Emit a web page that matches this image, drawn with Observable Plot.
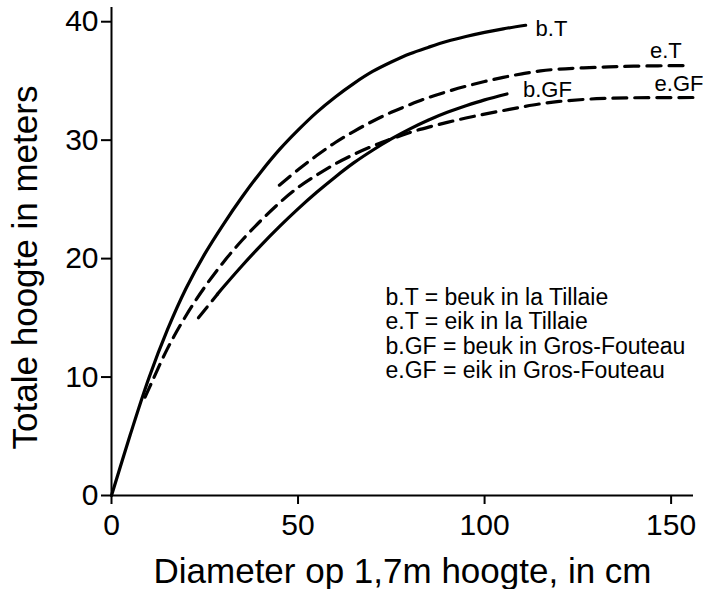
<!DOCTYPE html>
<html>
<head>
<meta charset="utf-8">
<script src="https://cdn.jsdelivr.net/npm/d3@7"></script>
<script src="https://cdn.jsdelivr.net/npm/@observablehq/plot@0.6"></script>
<style>
  html, body { margin: 0; padding: 0; background: #fff; }
  #chart svg { display: block; background: #fff; }
</style>
</head>
<body>
<div id="chart"></div>
<script>
// ---- data ----
const xTicks = [0, 50, 100, 150];
const yTicks = [0, 10, 20, 30, 40];

// b.T = beuk in la Tillaie (solid)
const bT_x = [0, 5, 10, 15, 20, 25, 30, 35, 40, 45, 50, 55, 60, 65, 70, 75, 80, 85, 90, 95, 100, 105, 111];
const bT_y = [0, 5.1, 9.9, 14.0, 17.5, 20.4, 22.9, 25.2, 27.3, 29.2, 30.85, 32.35, 33.65, 34.8, 35.8, 36.6, 37.3, 37.85, 38.35, 38.75, 39.1, 39.4, 39.7];

// e.T = eik in la Tillaie (dashed)
const eT_x = [45, 50, 55, 60, 65, 70, 75, 80, 85, 90, 95, 100, 105, 110, 115, 120, 130, 140, 155];
const eT_y = [26.2, 27.5, 28.7, 29.8, 30.75, 31.6, 32.35, 33.0, 33.6, 34.1, 34.55, 34.95, 35.3, 35.6, 35.85, 36.0, 36.15, 36.25, 36.3];

// b.GF = beuk in Gros-Fouteau (short dashed start, then solid)
const bGFlead_x = [23.3, 28.4];
const bGFlead_y = [15.0, 17.0];
const bGF_x = [28.4, 30, 35, 40, 45, 50, 55, 60, 65, 70, 75, 80, 85, 90, 95, 100, 106];
const bGF_y = [17.0, 17.6, 19.4, 21.1, 22.7, 24.2, 25.6, 26.9, 28.1, 29.15, 30.1, 30.95, 31.7, 32.35, 32.9, 33.4, 33.9];

// e.GF = eik in Gros-Fouteau (dashed)
const eGF_x = [9, 10, 15, 20, 25, 30, 35, 40, 45, 50, 55, 60, 65, 70, 75, 80, 85, 90, 95, 100, 105, 110, 115, 120, 130, 140, 156];
const eGF_y = [8.3, 9.0, 12.4, 15.2, 17.6, 19.7, 21.55, 23.2, 24.7, 26.0, 27.05, 28.0, 28.8, 29.5, 30.1, 30.65, 31.1, 31.5, 31.87, 32.2, 32.5, 32.8, 33.07, 33.27, 33.5, 33.58, 33.6];

const legendLines = [
  "b.T = beuk in la Tillaie",
  "e.T = eik in la Tillaie",
  "b.GF = beuk in Gros-Fouteau",
  "e.GF = eik in Gros-Fouteau"
];
const xLabel = "Diameter op 1,7m hoogte, in cm";
const yLabel = "Totale hoogte in meters";

// ---- build tables ----
const rows = (name, xs, ys) => xs.map((x, i) => ({series: name, x, y: ys[i]}));
const bT = rows("b.T", bT_x, bT_y);
const eT = rows("e.T", eT_x, eT_y);
const bGF = rows("b.GF", bGF_x, bGF_y);
const bGFlead = rows("b.GF lead", bGFlead_x, bGFlead_y);
const eGF = rows("e.GF", eGF_x, eGF_y);
const solid = [...bT, ...bGF];
const dashed = [...eT, ...eGF, ...bGFlead];
const last = a => [a[a.length - 1]];

const font = "'Liberation Sans', Arial, Helvetica, sans-serif";
const labelStyle = {x: "x", y: "y", fontSize: 22, fill: "black", fontFamily: font};

const chart = Plot.plot({
  width: 703,
  height: 589,
  marginLeft: 111,
  marginRight: 10,
  marginTop: 7,
  marginBottom: 94,
  style: {fontFamily: font, fontSize: "29px", color: "black", background: "white"},
  x: {domain: [0, 156], label: null},
  y: {domain: [0, 41.2], label: null},
  marks: [
    Plot.axisX({ticks: xTicks, tickSize: 9, tickPadding: 9, strokeWidth: 2, fontSize: 30, label: null}),
    Plot.axisY({ticks: yTicks, tickSize: 10, tickPadding: 3, strokeWidth: 2, fontSize: 30, label: null}),
    Plot.ruleX([0], {strokeWidth: 2}),
    Plot.ruleY([0], {strokeWidth: 2}),
    Plot.line(solid, {x: "x", y: "y", z: "series", curve: "catmull-rom", stroke: "black", strokeWidth: 3.2}),
    Plot.line(dashed, {x: "x", y: "y", z: "series", curve: "catmull-rom", stroke: "black", strokeWidth: 3.2, strokeDasharray: "14,8"}),
    Plot.text(last(bT), {...labelStyle, text: () => "b.T", textAnchor: "start", lineAnchor: "bottom", dx: 10, dy: 11}),
    Plot.text(last(eT), {...labelStyle, text: () => "e.T", textAnchor: "end", lineAnchor: "bottom", dx: -8, dy: -8}),
    Plot.text(last(bGF), {...labelStyle, text: () => "b.GF", textAnchor: "start", lineAnchor: "bottom", dx: 16, dy: 3}),
    Plot.text(last(eGF), {...labelStyle, text: () => "e.GF", textAnchor: "end", lineAnchor: "bottom", dx: 10, dy: -7}),
    Plot.text([legendLines.join("\n")], {
      text: d => d, frameAnchor: "top-left", textAnchor: "start", lineAnchor: "top",
      dx: 274, dy: 280, fontSize: 23, lineHeight: 1.065, fontFamily: font, fill: "black"
    }),
    Plot.text([xLabel], {
      text: d => d, frameAnchor: "bottom", textAnchor: "middle", lineAnchor: "bottom",
      dy: 87, fontSize: 35, fontFamily: font, fill: "black"
    }),
    Plot.text([yLabel], {
      text: d => d, frameAnchor: "left", textAnchor: "middle", lineAnchor: "middle",
      rotate: -90, dx: -86, dy: 16, fontSize: 35, fontFamily: font, fill: "black"
    })
  ]
});
document.getElementById("chart").appendChild(chart);
</script>
</body>
</html>
